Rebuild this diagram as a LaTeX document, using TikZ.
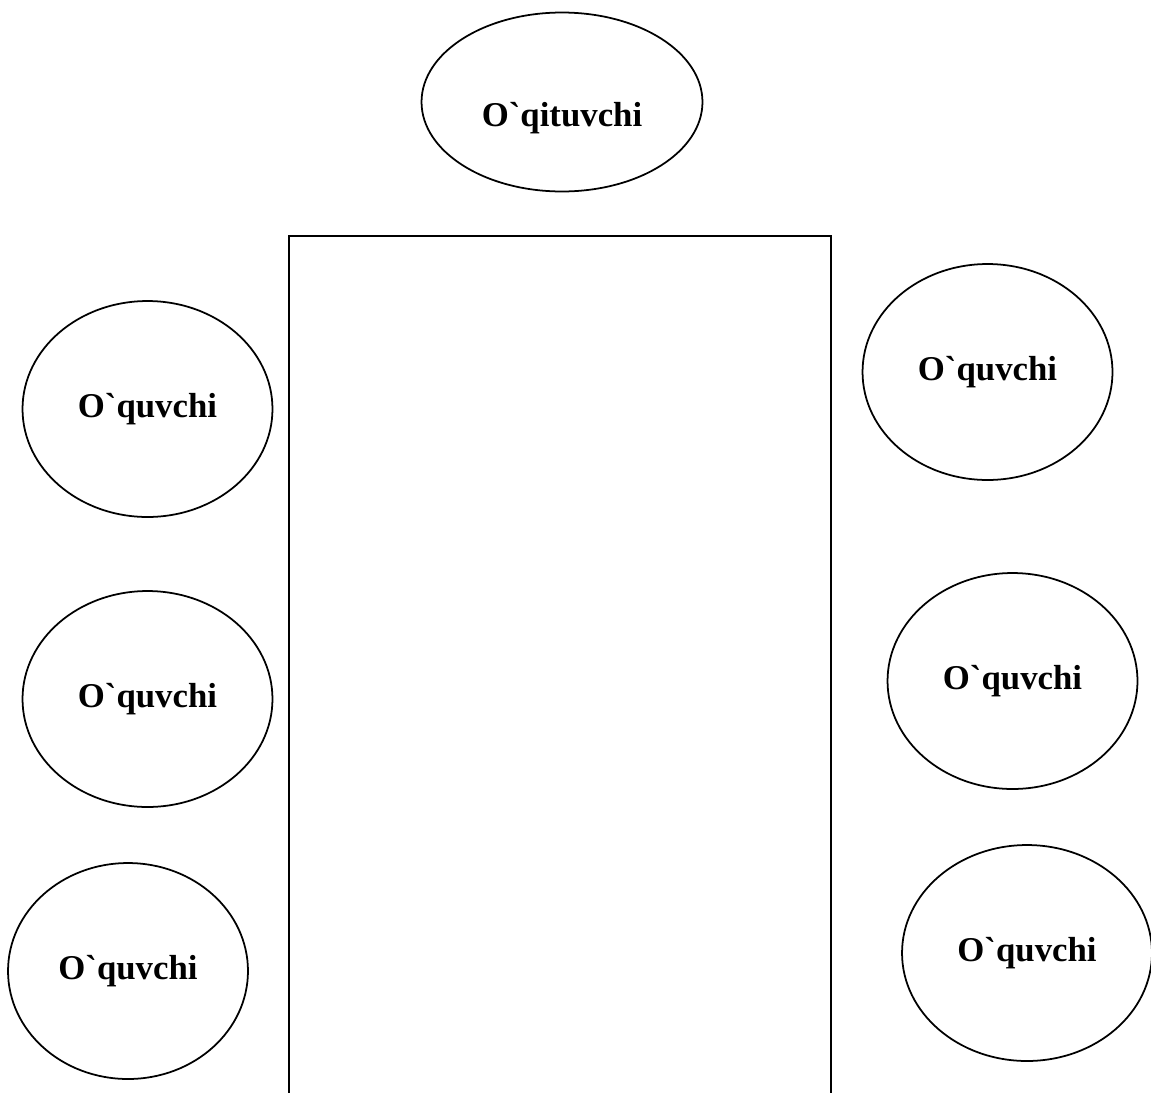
\documentclass[tikz,border=0pt]{standalone}
\usepackage{fontspec}
\setmainfont{Liberation Serif}[Ligatures=TeXOff]
\usetikzlibrary{shapes.geometric}

\tikzset{
	pupil/.style={draw, ellipse, line width=1pt, minimum width=5cm, minimum height=4.32cm,
		inner sep=0pt, text height=0.5cm, text depth=0.15cm,
		font=\fontsize{19.8}{24}\selectfont\bfseries},
	teacher/.style={pupil, minimum width=5.62cm, minimum height=3.58cm, text height=1.15cm}
}

\begin{document}
\begin{tikzpicture}[x=0.02cm, y=-0.02cm]
	\path [use as bounding box, fill=white] (0,0) rectangle (1151,1092);
	\clip (0,0) rectangle (1151,1092);

	\draw [line width=1.1pt] (289,1100) -- (289,236) -- (831,236) -- (831,1100);

	\node [teacher] (teacher) at (562,102) {O`qituvchi};

	\node [pupil] (left1) at (147.5,409) {O`quvchi};
	\node [pupil] (left2) at (147.5,699) {O`quvchi};
	\node [pupil, minimum width=4.8cm] (left3) at (128,971) {O`quvchi};

	\node [pupil] (right1) at (987.5,372) {O`quvchi};
	\node [pupil] (right2) at (1012.5,681) {O`quvchi};
	\node [pupil] (right3) at (1027,953) {O`quvchi};
\end{tikzpicture}
\end{document}
